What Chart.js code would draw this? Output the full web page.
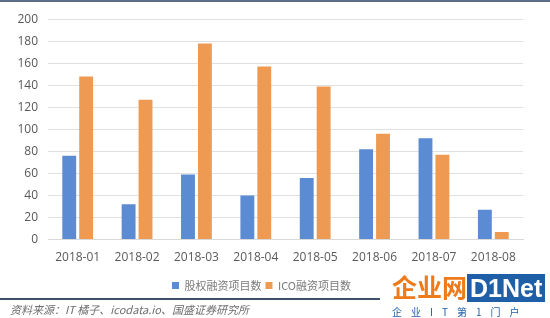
<!doctype html>
<html>
<head>
<meta charset="utf-8">
<title>股权融资与ICO融资项目数</title>
<script src="https://cdn.jsdelivr.net/npm/chart.js@4.4.1/dist/chart.umd.min.js"></script>
<style>
  html, body { margin: 0; padding: 0; background: #fff; }
  #wrap { position: relative; width: 550px; height: 318px; overflow: hidden; font-family: "Noto Sans CJK SC", sans-serif; }
  #topline { position: absolute; left: 0; top: 0; width: 550px; height: 2px; background: #5a6f86; }
  #box { position: absolute; left: 0; top: 2px; width: 550px; height: 302px; }
  #bottomline { position: absolute; left: 0; top: 298px; width: 380px; height: 2px; background: #3d5068; }
  #source { position: absolute; left: 10px; top: 301px; font-size: 11px; color: #6d6d6d; font-style: italic; white-space: nowrap; }
  #logo { position: absolute; left: 392px; top: 272px; font-size: 25px; font-weight: bold; line-height: 28px; white-space: nowrap; }
  #logo .cn { color: #ee7a1a; }
  #logo .en { color: #fff; background: #1f5fa8; padding: 0 3px; font-family: "Liberation Sans", sans-serif; }
  #slogan { position: absolute; left: 392px; top: 304px; font-size: 10px; color: #1f5fa8; letter-spacing: 9px; white-space: nowrap; }
</style>
</head>
<body>
<div id="wrap">
  <div id="topline"></div>
  <div id="box"><canvas id="myChart"></canvas></div>
  <div id="bottomline"></div>
  <div id="source">资料来源：IT 橘子、icodata.io、国盛证券研究所</div>
  <div id="logo"><span class="cn">企业网</span><span class="en">D1Net</span></div>
  <div id="slogan">企业IT第1门户</div>
</div>
<script>
  // 月份
  var months = ['2018-01', '2018-02', '2018-03', '2018-04', '2018-05', '2018-06', '2018-07', '2018-08'];
  // 股权融资项目数
  var equity = [76, 32, 59, 40, 56, 82, 92, 27];
  // ICO融资项目数
  var ico = [148, 127, 178, 157, 139, 96, 77, 7];

  var ctx = document.getElementById('myChart').getContext('2d');
  var myChart = new Chart(ctx, {
    type: 'bar',
    data: {
      labels: months,
      datasets: [{
        label: '股权融资项目数',
        data: equity,
        backgroundColor: '#5b8bd3',
        barPercentage: 0.82,
        categoryPercentage: 0.57
      }, {
        label: 'ICO融资项目数',
        data: ico,
        backgroundColor: '#ef9a52',
        barPercentage: 0.82,
        categoryPercentage: 0.57
      }]
    },
    options: {
      responsive: true,
      maintainAspectRatio: false,
      animation: false,
      layout: { padding: { top: -2, right: 27, left: 0, bottom: 3 } },
      plugins: {
        tooltip: { enabled: false },
        legend: {
          position: 'bottom',
          labels: {
            boxWidth: 7,
            boxHeight: 7,
            padding: 4,
            color: '#7a7a7a',
            font: { size: 11, family: '"Noto Sans CJK SC", sans-serif' }
          }
        }
      },
      scales: {
        x: {
          grid: { display: false, drawTicks: false },
          border: { color: '#d9d9d9' },
          ticks: { color: '#595959', padding: 11, font: { size: 12, family: '"Open Sans", sans-serif' } }
        },
        y: {
          min: 0,
          max: 200,
          afterFit: function (scale) { scale.width = 48; },
          grid: { color: '#e0e0e0', drawTicks: false },
          border: { display: false },
          ticks: { stepSize: 20, color: '#595959', padding: 10, font: { size: 12, family: '"Open Sans", sans-serif' } }
        }
      }
    }
  });
</script>
</body>
</html>
